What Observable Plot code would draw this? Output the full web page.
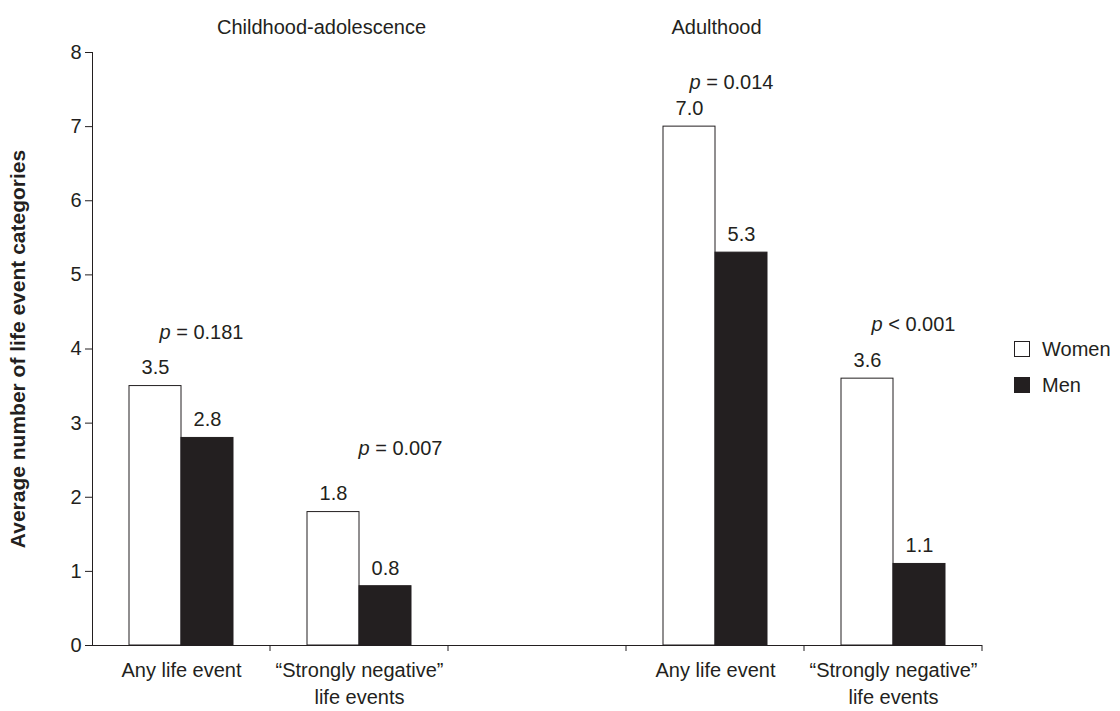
<!DOCTYPE html>
<html><head><meta charset="utf-8">
<script src="https://cdn.jsdelivr.net/npm/d3@7"></script>
<script src="https://cdn.jsdelivr.net/npm/@observablehq/plot@0.6"></script>
<style>
body{margin:0;background:#fff;font-family:"Liberation Sans",Arial,sans-serif;}
#wrap{position:relative;width:1120px;height:711px;}
.legend{position:absolute;left:1014px;font-size:20px;color:#231f20;display:flex;align-items:center;line-height:1;}
.sw{width:16px;height:16px;border:1px solid #231f20;box-sizing:border-box;margin-right:12px}
</style></head>
<body><div id="wrap"></div>
<script>
// ---- data ----
const slots = ["c-any", "c-neg", "gap", "a-any", "a-neg"];
const slotLabels = ["Any life event", "\u201cStrongly negative\u201d\nlife events", "", "Any life event", "\u201cStrongly negative\u201d\nlife events"];
const sexes = ["Women", "Men"];
const barSlots = ["c-any", "c-neg", "a-any", "a-neg"];
const women = [3.5, 1.8, 7.0, 3.6];
const men = [2.8, 0.8, 5.3, 1.1];
const pTexts = ["p = 0.181", "p = 0.007", "p = 0.014", "p < 0.001"];
const pLevels = [4.22, 2.65, 7.6, 4.33];
const groupTitles = ["Childhood-adolescence", "Adulthood"];
const groupSlots = ["c-neg", "a-any"];
const yLabel = "Average number of life event categories";

// ---- tables ----
const ink = "#231f20";
const bars = [];
barSlots.forEach((s, i) => {
  bars.push({slot: s, sex: "Women", value: women[i]});
  bars.push({slot: s, sex: "Men", value: men[i]});
});
const slotTable = slots.map((s, i) => ({slot: s, label: slotLabels[i]}));
const pTable = barSlots.map((s, i) => ({slot: s, text: pTexts[i], level: pLevels[i]}));
const groupTable = groupTitles.map((t, i) => ({slot: groupSlots[i], title: t}));

// styling offsets (pixels, relative to the slot centre)
const pShift = {"c-any": 20, "c-neg": 41, "a-any": 16, "a-neg": 20};
const titleShift = {"c-neg": -38, "a-any": 1};

const chart = Plot.plot({
  width: 1120, height: 711,
  marginLeft: 92, marginRight: 138, marginTop: 52, marginBottom: 66,
  style: {fontFamily: "Liberation Sans, Arial, sans-serif", fontSize: "20px", color: ink, background: "white"},
  fx: {domain: slots, padding: 0, axis: null},
  x: {domain: sexes, paddingInner: 0, paddingOuter: 0.706, axis: null},
  y: {domain: [0, 8], ticks: 8, tickSize: 7, tickPadding: 4, label: null, line: true},
  color: {domain: sexes, range: ["white", ink]},
  marks: [
    Plot.ruleY([0], {stroke: ink}),
    Plot.barY(bars, {fx: "slot", x: "sex", y: "value", fill: "sex", stroke: ink, strokeWidth: 1}),
    Plot.text(bars, {fx: "slot", x: "sex", y: "value", text: d => d.value.toFixed(1), dy: -18, fill: ink, fontSize: 20}),
    ...pTable.map(d => Plot.text([d], {fx: "slot", y: "level", text: "text", frameAnchor: "middle", dx: pShift[d.slot], fill: ink, fontSize: 20, className: "plabel"})),
    ...groupTable.map(d => Plot.text([d], {fx: "slot", text: "title", frameAnchor: "top", dy: -33, dx: titleShift[d.slot], fill: ink, fontSize: 20})),
    Plot.text(slotTable, {fx: "slot", text: "label", frameAnchor: "bottom", lineAnchor: "top", dy: 12, lineHeight: 1.35, fill: ink, fontSize: 20}),
    Plot.text([yLabel], {fx: () => slots[0], text: d => d, frameAnchor: "left", textAnchor: "middle", rotate: -90, dx: -74, fontWeight: "bold", fontSize: 21, fill: ink})
  ]
});

// italic "p"
d3.select(chart).selectAll(".plabel text").each(function() {
  const t = this.textContent;
  const sel = d3.select(this);
  sel.text(null);
  sel.append("tspan").attr("font-style", "italic").text(t.slice(0, 1));
  sel.append("tspan").text(t.slice(1));
});

// category boundary ticks on the x baseline, from the fx scale
const fxs = chart.scale("fx");
const y0 = chart.scale("y").apply(0);
const edges = slots.slice(1).map(s => fxs.apply(s));
edges.push(fxs.apply(slots[slots.length - 1]) + fxs.bandwidth);
d3.select(chart).append("g").attr("stroke", ink)
  .selectAll("line").data(edges).join("line")
  .attr("x1", d => d).attr("x2", d => d).attr("y1", y0).attr("y2", y0 + 6);

const wrap = document.getElementById("wrap");
wrap.appendChild(chart);

// legend
const legTops = [339, 375];
sexes.forEach((s, i) => {
  const div = document.createElement("div");
  div.className = "legend";
  div.style.top = legTops[i] + "px";
  const sw = document.createElement("span");
  sw.className = "sw";
  sw.style.background = i === 0 ? "white" : ink;
  div.appendChild(sw);
  div.appendChild(document.createTextNode(s));
  wrap.appendChild(div);
});
</script>
</body></html>
